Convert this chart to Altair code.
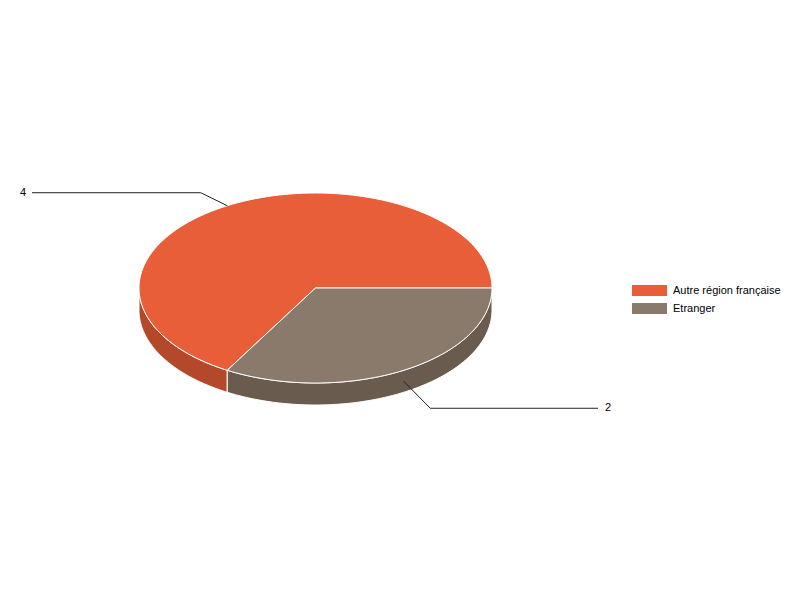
import altair as alt
import pandas as pd

# ---- data ----
categories = ["Autre région française", "Etranger"]
values = [4, 2]

# ---- style ----
top_colors = ["#E85E38", "#8A7A6C"]
side_colors = ["#B3482A", "#6A5B4F"]
FONT = "Liberation Sans"

W, H = 784, 584
CX, CY, RX, RY, DEPTH = 307.5, 280.0, 176.5, 95.0, 22.0
N = 120

df = pd.DataFrame({"category": categories, "value": values,
                   "rank": list(range(len(categories)))})

xs = alt.Scale(domain=[0, W], nice=False, zero=False)
ys = alt.Scale(domain=[0, H], nice=False, zero=False, reverse=True)
X = alt.X("px:Q", scale=xs, axis=None)
Y = alt.Y("py:Q", scale=ys, axis=None)


def base():
    return (alt.Chart(df)
            .transform_window(cum="sum(value)", sort=[alt.SortField("rank")],
                              frame=[None, 0])
            .transform_joinaggregate(total="sum(value)")
            .transform_calculate(t0="360 - datum.cum * 360 / datum.total")
            .transform_calculate(t1="360 - (datum.cum - datum.value) * 360 / datum.total"))


# side faces (front half only)
side = (base()
        .transform_calculate(a="max(datum.t0, 0)")
        .transform_calculate(b="min(datum.t1, 180)")
        .transform_filter("datum.b > datum.a")
        .transform_calculate(idx=f"sequence(0, {2 * N + 3})")
        .transform_flatten(["idx"])
        .transform_calculate(onbottom=f"datum.idx > {N} && datum.idx <= {2 * N + 1}")
        .transform_calculate(
            ang=f"(datum.idx <= {N} ? datum.a + (datum.b - datum.a) * datum.idx / {N} : "
                f"(datum.idx <= {2 * N + 1} ? datum.b - (datum.b - datum.a) * (datum.idx - {N + 1}) / {N} : datum.a)) * PI / 180")
        .transform_calculate(px=f"{CX} + {RX} * cos(datum.ang)")
        .transform_calculate(py=f"{CY} + {RY} * sin(datum.ang) + (datum.onbottom ? {DEPTH} : 0)")
        .mark_line(filled=True, stroke="white", strokeWidth=1, strokeJoin="round")
        .encode(x=X, y=Y,
                color=alt.Color("category:N",
                                scale=alt.Scale(domain=categories, range=side_colors),
                                legend=None),
                order="idx:Q"))

# top faces
top = (base()
       .transform_calculate(idx=f"sequence(-1, {N + 2})")
       .transform_flatten(["idx"])
       .transform_calculate(ang=f"(datum.t0 + (datum.t1 - datum.t0) * clamp(datum.idx, 0, {N}) / {N}) * PI / 180")
       .transform_calculate(center=f"datum.idx < 0 || datum.idx > {N}")
       .transform_calculate(px=f"datum.center ? {CX} : {CX} + {RX} * cos(datum.ang)")
       .transform_calculate(py=f"datum.center ? {CY} : {CY} + {RY} * sin(datum.ang)")
       .mark_line(filled=True, stroke="white", strokeWidth=1, strokeJoin="round")
       .encode(x=X, y=Y,
               color=alt.Color("category:N",
                               scale=alt.Scale(domain=categories, range=top_colors),
                               legend=alt.Legend(
                                   title=None, orient="none", legendX=624, legendY=273.5,
                                   symbolType="M-1,-0.3143H1V0.3143H-1Z",
                                   symbolSize=1225, symbolStrokeWidth=0,
                                   labelFont=FONT, labelFontSize=11, labelColor="#000",
                                   labelOffset=6, rowPadding=0, clipHeight=18)),
               order="idx:Q"))


def leader_base():
    return (base()
            .transform_calculate(tm="(datum.t0 + datum.t1) / 2 * PI / 180")
            .transform_calculate(front="sin(datum.tm) > 0")
            .transform_calculate(right="cos(datum.tm) >= 0")
            .transform_calculate(ax=f"{CX} + {RX} * cos(datum.tm)")
            .transform_calculate(ay=f"{CY} + {RY} * sin(datum.tm) + (datum.front ? {DEPTH / 2} : 0)")
            .transform_calculate(bx=f"{CX} + 1.3 * {RX} * cos(datum.tm)")
            .transform_calculate(by="datum.ay + (datum.front ? 27 : -13)")
            .transform_calculate(ex="datum.right ? 590 : 24"))


lead = (leader_base()
        .transform_calculate(idx="sequence(0, 3)")
        .transform_flatten(["idx"])
        .transform_calculate(px="datum.idx == 0 ? datum.ax : (datum.idx == 1 ? datum.bx : datum.ex)")
        .transform_calculate(py="datum.idx == 0 ? datum.ay : datum.by")
        .mark_line(color="#222", strokeWidth=1)
        .encode(x=X, y=Y, detail="category:N", order="idx:Q"))

lab_right = (leader_base()
             .transform_filter("datum.right")
             .transform_calculate(px="datum.ex + 7")
             .transform_calculate(py="datum.by")
             .mark_text(align="left", baseline="middle", font=FONT, fontSize=11, color="#000")
             .encode(x=X, y=Y, text="value:Q"))

lab_left = (leader_base()
            .transform_filter("!datum.right")
            .transform_calculate(px="datum.ex - 6")
            .transform_calculate(py="datum.by")
            .mark_text(align="right", baseline="middle", font=FONT, fontSize=11, color="#000")
            .encode(x=X, y=Y, text="value:Q"))

chart = (alt.layer(side, top, lead, lab_right, lab_left)
         .resolve_scale(color="independent")
         .properties(width=W, height=H, padding=0, autosize="none", background="white")
         .configure_view(stroke=None))

chart.save("out.html", embed_options={"renderer": "svg", "actions": False})
